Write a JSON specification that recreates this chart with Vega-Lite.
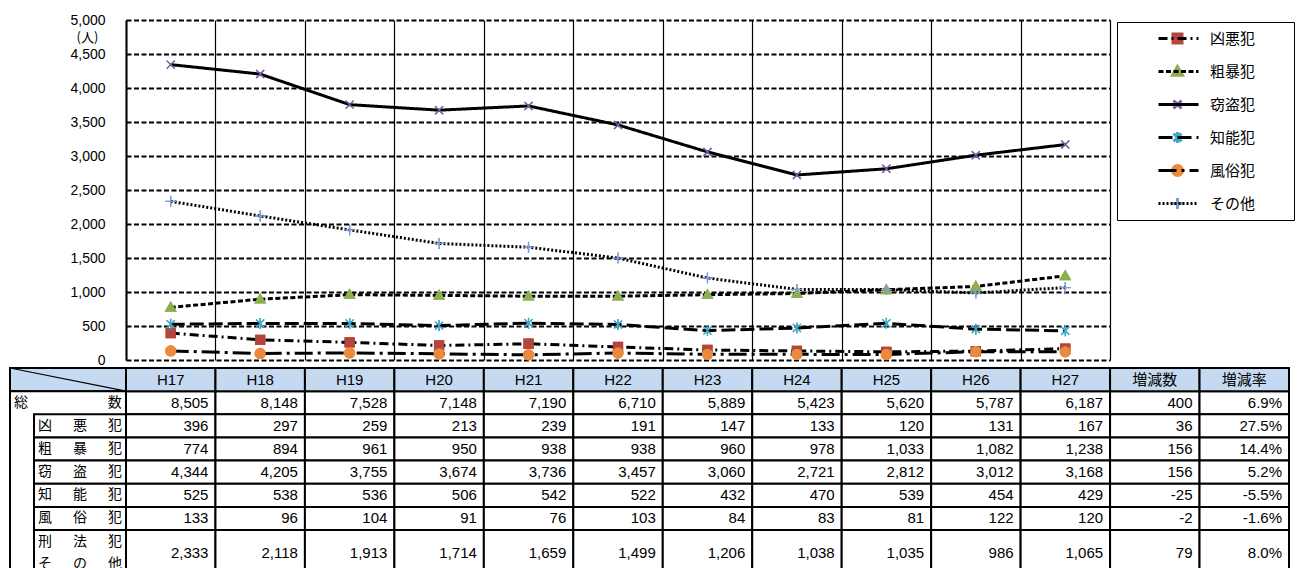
{
  "$schema": "https://vega.github.io/schema/vega-lite/v6.json",
  "width": 984,
  "height": 340,
  "autosize": {"type": "none"},
  "padding": {"left": 126, "top": 20, "right": 194, "bottom": 208},
  "background": "white",
  "config": {
    "view": {"stroke": null},
    "font": "Liberation Sans",
    "locale": {"number": {"decimal": ".", "thousands": ",", "grouping": [3], "currency": ["", ""], "minus": "-"}}
  },
  "datasets": {
    "cells": [
      {"区分": "総数", "年": "H17", "値": 8505}, {"区分": "総数", "年": "H18", "値": 8148}, {"区分": "総数", "年": "H19", "値": 7528},
      {"区分": "総数", "年": "H20", "値": 7148}, {"区分": "総数", "年": "H21", "値": 7190}, {"区分": "総数", "年": "H22", "値": 6710},
      {"区分": "総数", "年": "H23", "値": 5889}, {"区分": "総数", "年": "H24", "値": 5423}, {"区分": "総数", "年": "H25", "値": 5620},
      {"区分": "総数", "年": "H26", "値": 5787}, {"区分": "総数", "年": "H27", "値": 6187},
      {"区分": "総数", "年": "増減数", "値": 400}, {"区分": "総数", "年": "増減率", "値": 0.069},

      {"区分": "凶悪犯", "年": "H17", "値": 396}, {"区分": "凶悪犯", "年": "H18", "値": 297}, {"区分": "凶悪犯", "年": "H19", "値": 259},
      {"区分": "凶悪犯", "年": "H20", "値": 213}, {"区分": "凶悪犯", "年": "H21", "値": 239}, {"区分": "凶悪犯", "年": "H22", "値": 191},
      {"区分": "凶悪犯", "年": "H23", "値": 147}, {"区分": "凶悪犯", "年": "H24", "値": 133}, {"区分": "凶悪犯", "年": "H25", "値": 120},
      {"区分": "凶悪犯", "年": "H26", "値": 131}, {"区分": "凶悪犯", "年": "H27", "値": 167},
      {"区分": "凶悪犯", "年": "増減数", "値": 36}, {"区分": "凶悪犯", "年": "増減率", "値": 0.275},

      {"区分": "粗暴犯", "年": "H17", "値": 774}, {"区分": "粗暴犯", "年": "H18", "値": 894}, {"区分": "粗暴犯", "年": "H19", "値": 961},
      {"区分": "粗暴犯", "年": "H20", "値": 950}, {"区分": "粗暴犯", "年": "H21", "値": 938}, {"区分": "粗暴犯", "年": "H22", "値": 938},
      {"区分": "粗暴犯", "年": "H23", "値": 960}, {"区分": "粗暴犯", "年": "H24", "値": 978}, {"区分": "粗暴犯", "年": "H25", "値": 1033},
      {"区分": "粗暴犯", "年": "H26", "値": 1082}, {"区分": "粗暴犯", "年": "H27", "値": 1238},
      {"区分": "粗暴犯", "年": "増減数", "値": 156}, {"区分": "粗暴犯", "年": "増減率", "値": 0.144},

      {"区分": "窃盗犯", "年": "H17", "値": 4344}, {"区分": "窃盗犯", "年": "H18", "値": 4205}, {"区分": "窃盗犯", "年": "H19", "値": 3755},
      {"区分": "窃盗犯", "年": "H20", "値": 3674}, {"区分": "窃盗犯", "年": "H21", "値": 3736}, {"区分": "窃盗犯", "年": "H22", "値": 3457},
      {"区分": "窃盗犯", "年": "H23", "値": 3060}, {"区分": "窃盗犯", "年": "H24", "値": 2721}, {"区分": "窃盗犯", "年": "H25", "値": 2812},
      {"区分": "窃盗犯", "年": "H26", "値": 3012}, {"区分": "窃盗犯", "年": "H27", "値": 3168},
      {"区分": "窃盗犯", "年": "増減数", "値": 156}, {"区分": "窃盗犯", "年": "増減率", "値": 0.052},

      {"区分": "知能犯", "年": "H17", "値": 525}, {"区分": "知能犯", "年": "H18", "値": 538}, {"区分": "知能犯", "年": "H19", "値": 536},
      {"区分": "知能犯", "年": "H20", "値": 506}, {"区分": "知能犯", "年": "H21", "値": 542}, {"区分": "知能犯", "年": "H22", "値": 522},
      {"区分": "知能犯", "年": "H23", "値": 432}, {"区分": "知能犯", "年": "H24", "値": 470}, {"区分": "知能犯", "年": "H25", "値": 539},
      {"区分": "知能犯", "年": "H26", "値": 454}, {"区分": "知能犯", "年": "H27", "値": 429},
      {"区分": "知能犯", "年": "増減数", "値": -25}, {"区分": "知能犯", "年": "増減率", "値": -0.055},

      {"区分": "風俗犯", "年": "H17", "値": 133}, {"区分": "風俗犯", "年": "H18", "値": 96}, {"区分": "風俗犯", "年": "H19", "値": 104},
      {"区分": "風俗犯", "年": "H20", "値": 91}, {"区分": "風俗犯", "年": "H21", "値": 76}, {"区分": "風俗犯", "年": "H22", "値": 103},
      {"区分": "風俗犯", "年": "H23", "値": 84}, {"区分": "風俗犯", "年": "H24", "値": 83}, {"区分": "風俗犯", "年": "H25", "値": 81},
      {"区分": "風俗犯", "年": "H26", "値": 122}, {"区分": "風俗犯", "年": "H27", "値": 120},
      {"区分": "風俗犯", "年": "増減数", "値": -2}, {"区分": "風俗犯", "年": "増減率", "値": -0.016},

      {"区分": "その他", "年": "H17", "値": 2333}, {"区分": "その他", "年": "H18", "値": 2118}, {"区分": "その他", "年": "H19", "値": 1913},
      {"区分": "その他", "年": "H20", "値": 1714}, {"区分": "その他", "年": "H21", "値": 1659}, {"区分": "その他", "年": "H22", "値": 1499},
      {"区分": "その他", "年": "H23", "値": 1206}, {"区分": "その他", "年": "H24", "値": 1038}, {"区分": "その他", "年": "H25", "値": 1035},
      {"区分": "その他", "年": "H26", "値": 986}, {"区分": "その他", "年": "H27", "値": 1065},
      {"区分": "その他", "年": "増減数", "値": 79}, {"区分": "その他", "年": "増減率", "値": 0.08}
    ],
    "labels": [
      {"区分": "総数", "表記": "総　　　　　\u2002\u2009数"},
      {"区分": "凶悪犯", "表記": "凶　\u2002悪　\u2002犯"},
      {"区分": "粗暴犯", "表記": "粗　\u2002暴　\u2002犯"},
      {"区分": "窃盗犯", "表記": "窃　\u2002盗　\u2002犯"},
      {"区分": "知能犯", "表記": "知　\u2002能　\u2002犯"},
      {"区分": "風俗犯", "表記": "風　\u2002俗　\u2002犯"},
      {"区分": "その他", "表記": "刑　\u2002法　\u2002犯\nそ　\u2002の　\u2002他"}
    ]
  },
  "resolve": {"scale": {"x": "independent", "y": "independent"}},
  "layer": [
    {
      "data": {"name": "cells"},
      "transform": [
        {"filter": {"field": "区分", "oneOf": ["凶悪犯", "粗暴犯", "窃盗犯", "知能犯", "風俗犯", "その他"]}},
        {"filter": {"field": "年", "oneOf": ["H17", "H18", "H19", "H20", "H21", "H22", "H23", "H24", "H25", "H26", "H27"]}}
      ],
      "encoding": {
        "x": {
          "field": "年", "type": "nominal",
          "scale": {"domain": ["H17", "H18", "H19", "H20", "H21", "H22", "H23", "H24", "H25", "H26", "H27"], "paddingInner": 0, "paddingOuter": 0},
          "axis": {"labels": false, "ticks": false, "domain": false, "title": null, "grid": true, "tickBand": "extent", "gridColor": "black", "gridWidth": 1.2, "gridOpacity": 1}
        },
        "y": {
          "field": "値", "type": "quantitative",
          "scale": {"domain": [0, 5000], "nice": false},
          "axis": {
            "values": [0, 500, 1000, 1500, 2000, 2500, 3000, 3500, 4000, 4500, 5000],
            "format": ",d", "labelFont": "Liberation Sans", "labelFontSize": 14, "labelColor": "black", "labelPadding": 21,
            "ticks": false, "domain": true, "domainColor": "black", "domainWidth": 2,
            "grid": true, "gridColor": "black", "gridWidth": 2, "gridDash": [5, 2.5], "gridOpacity": 1,
            "title": "(人)", "titleAngle": 0, "titleX": -39, "titleY": 17, "titleAlign": "center", "titleBaseline": "middle",
            "titleFont": "Noto Sans CJK JP", "titleFontSize": 13, "titleFontWeight": "normal", "titleColor": "black"
          }
        }
      },
      "layer": [
        {
          "mark": {"type": "point", "filled": true, "size": 100, "opacity": 1, "strokeWidth": 1.3},
          "encoding": {
            "color": {
              "field": "区分", "type": "nominal",
              "scale": {"domain": ["凶悪犯", "粗暴犯", "窃盗犯", "知能犯", "風俗犯", "その他"], "range": ["#b5443f", "#8db04f", "#7d5fa3", "#3fa8c6", "#ea8a3c", "#7f9fd4"]},
              "legend": {"orient": "none", "legendX": 991, "legendY": 2, "title": null, "padding": 0, "strokeColor": "black", "clipHeight": 33, "rowPadding": 0, "labelOpacity": 0, "labelFont": "Noto Sans CJK JP", "labelFontSize": 12, "symbolOffset": 54, "labelOffset": 73, "symbolStrokeWidth": 1.3, "symbolOpacity": 1, "symbolSize": 100}
            },
            "stroke": {
              "field": "区分", "type": "nominal",
              "scale": {"domain": ["凶悪犯", "粗暴犯", "窃盗犯", "知能犯", "風俗犯", "その他"], "range": ["#b5443f", "#8db04f", "#7d5fa3", "#3fa8c6", "#ea8a3c", "#7f9fd4"]},
              "legend": {"orient": "none", "legendX": 991, "legendY": 2, "title": null, "padding": 0, "strokeColor": "black", "clipHeight": 33, "rowPadding": 0, "labelOpacity": 0, "labelFont": "Noto Sans CJK JP", "labelFontSize": 12, "symbolOffset": 54, "labelOffset": 73, "symbolStrokeWidth": 1.3, "symbolOpacity": 1, "symbolSize": 100}
            },
            "shape": {
              "field": "区分", "type": "nominal",
              "scale": {
                "domain": ["凶悪犯", "粗暴犯", "窃盗犯", "知能犯", "風俗犯", "その他"],
                "range": [
                  "M-0.9,-0.9H0.9V0.9H-0.9Z",
                  "M0,-1L1,0.75H-1Z",
                  "M-0.8,-0.8L0.8,0.8M-0.8,0.8L0.8,-0.8",
                  "M-0.8,-0.8L0.8,0.8M-0.8,0.8L0.8,-0.8M0,-1.1L0,1.1",
                  "M1,0A1,1,0,1,1,-1,0A1,1,0,1,1,1,0Z",
                  "M-1.1,0H1.1M0,-1.1V1.1"
                ]
              },
              "legend": {"orient": "none", "legendX": 991, "legendY": 2, "title": null, "padding": 0, "strokeColor": "black", "clipHeight": 33, "rowPadding": 0, "labelOpacity": 0, "labelFont": "Noto Sans CJK JP", "labelFontSize": 12, "symbolOffset": 54, "labelOffset": 73, "symbolStrokeWidth": 1.3, "symbolOpacity": 1, "symbolSize": 100}
            }
          }
        },
        {
          "mark": {"type": "line", "color": "black"},
          "encoding": {
            "strokeDash": {
              "field": "区分", "type": "nominal",
              "scale": {"domain": ["凶悪犯", "粗暴犯", "窃盗犯", "知能犯", "風俗犯", "その他"], "range": [[9, 4, 2, 4], [5, 2.5], [1, 0], [14, 5], [18, 5, 3, 5], [2, 2]]},
              "legend": {
                "orient": "right", "offset": 7, "title": null, "padding": 2,
                "clipHeight": 33, "rowPadding": 0,
                "symbolType": "M-4,0L4,0", "symbolSize": 100, "symbolStrokeColor": "black", "symbolStrokeWidth": 3,
                "symbolOffset": 52, "labelOffset": 24,
                "labelFont": "Noto Sans CJK JP", "labelFontSize": 15, "labelColor": "black"
              }
            },
            "strokeWidth": {
              "field": "区分", "type": "nominal",
              "scale": {"domain": ["凶悪犯", "粗暴犯", "窃盗犯", "知能犯", "風俗犯", "その他"], "range": [3, 3, 2, 3.5, 3, 2.5]},
              "legend": null
            }
          }
        },
        {
          "mark": {"type": "point", "filled": true, "size": 100, "opacity": 1, "strokeWidth": 1.3},
          "encoding": {
            "color": {"field": "区分", "type": "nominal", "legend": null},
            "stroke": {"field": "区分", "type": "nominal", "legend": null},
            "shape": {"field": "区分", "type": "nominal", "legend": null}
          }
        }
      ]
    },
    {
      "data": {"name": "cells"},
      "encoding": {
        "x": {
          "field": "年", "type": "nominal",
          "scale": {"domain": ["H17", "H18", "H19", "H20", "H21", "H22", "H23", "H24", "H25", "H26", "H27", "増減数", "増減率"], "range": [0, 1163], "paddingInner": 0, "paddingOuter": 0},
          "axis": null
        },
        "y": {
          "field": "区分", "type": "nominal",
          "scale": {"domain": ["見出し", "総数", "凶悪犯", "粗暴犯", "窃盗犯", "知能犯", "風俗犯", "その他", "その他（続）"], "range": [348, 556.35], "paddingInner": 0, "paddingOuter": 0},
          "axis": null
        }
      },
      "layer": [
        {
          "transform": [{"filter": {"not": {"field": "区分", "equal": "その他"}}}],
          "mark": {"type": "rect", "fill": "white", "stroke": "black", "strokeWidth": 2}
        },
        {
          "transform": [{"filter": {"field": "区分", "equal": "その他"}}],
          "mark": {"type": "rect", "fill": "white", "stroke": "black", "strokeWidth": 2},
          "encoding": {
            "y": {"field": "区分", "type": "nominal", "bandPosition": 0,
                  "scale": {"domain": ["見出し", "総数", "凶悪犯", "粗暴犯", "窃盗犯", "知能犯", "風俗犯", "その他", "その他（続）"], "range": [348, 556.35], "paddingInner": 0, "paddingOuter": 0}},
            "y2": {"datum": "その他（続）", "bandPosition": 1}
          }
        },
        {
          "transform": [{"filter": {"field": "区分", "equal": "総数"}}],
          "mark": {"type": "rect", "fill": "#c5d9f1", "stroke": "black", "strokeWidth": 2},
          "encoding": {
            "y": {"datum": "見出し", "type": "nominal",
                  "scale": {"domain": ["見出し", "総数", "凶悪犯", "粗暴犯", "窃盗犯", "知能犯", "風俗犯", "その他", "その他（続）"], "range": [348, 556.35], "paddingInner": 0, "paddingOuter": 0}}
          }
        },
        {
          "transform": [{"filter": {"field": "区分", "equal": "総数"}}],
          "mark": {"type": "text", "font": "Liberation Sans, Noto Sans CJK JP", "fontSize": 15, "color": "black", "align": "center", "baseline": "middle"},
          "encoding": {
            "y": {"datum": "見出し", "type": "nominal",
                  "scale": {"domain": ["見出し", "総数", "凶悪犯", "粗暴犯", "窃盗犯", "知能犯", "風俗犯", "その他", "その他（続）"], "range": [348, 556.35], "paddingInner": 0, "paddingOuter": 0}},
            "text": {"field": "年", "type": "nominal"}
          }
        },
        {
          "transform": [{"filter": {"not": {"field": "年", "equal": "増減率"}}}, {"filter": {"not": {"field": "区分", "equal": "その他"}}}],
          "mark": {"type": "text", "font": "Liberation Sans", "fontSize": 15, "color": "black", "align": "right", "baseline": "middle", "dx": -7},
          "encoding": {
            "x": {"field": "年", "type": "nominal", "bandPosition": 1,
                  "scale": {"domain": ["H17", "H18", "H19", "H20", "H21", "H22", "H23", "H24", "H25", "H26", "H27", "増減数", "増減率"], "range": [0, 1163], "paddingInner": 0, "paddingOuter": 0}},
            "text": {"field": "値", "type": "quantitative", "format": ","}
          }
        },
        {
          "transform": [{"filter": {"field": "年", "equal": "増減率"}}, {"filter": {"not": {"field": "区分", "equal": "その他"}}}],
          "mark": {"type": "text", "font": "Liberation Sans", "fontSize": 15, "color": "black", "align": "right", "baseline": "middle", "dx": -7},
          "encoding": {
            "x": {"field": "年", "type": "nominal", "bandPosition": 1,
                  "scale": {"domain": ["H17", "H18", "H19", "H20", "H21", "H22", "H23", "H24", "H25", "H26", "H27", "増減数", "増減率"], "range": [0, 1163], "paddingInner": 0, "paddingOuter": 0}},
            "text": {"field": "値", "type": "quantitative", "format": ".1%"}
          }
        },
        {
          "transform": [{"filter": {"not": {"field": "年", "equal": "増減率"}}}, {"filter": {"field": "区分", "equal": "その他"}}],
          "mark": {"type": "text", "font": "Liberation Sans", "fontSize": 15, "color": "black", "align": "right", "baseline": "middle", "dx": -7},
          "encoding": {
            "x": {"field": "年", "type": "nominal", "bandPosition": 1,
                  "scale": {"domain": ["H17", "H18", "H19", "H20", "H21", "H22", "H23", "H24", "H25", "H26", "H27", "増減数", "増減率"], "range": [0, 1163], "paddingInner": 0, "paddingOuter": 0}},
            "y": {"field": "区分", "type": "nominal", "bandPosition": 1,
                  "scale": {"domain": ["見出し", "総数", "凶悪犯", "粗暴犯", "窃盗犯", "知能犯", "風俗犯", "その他", "その他（続）"], "range": [348, 556.35], "paddingInner": 0, "paddingOuter": 0}},
            "text": {"field": "値", "type": "quantitative", "format": ","}
          }
        },
        {
          "transform": [{"filter": {"field": "年", "equal": "増減率"}}, {"filter": {"field": "区分", "equal": "その他"}}],
          "mark": {"type": "text", "font": "Liberation Sans", "fontSize": 15, "color": "black", "align": "right", "baseline": "middle", "dx": -7},
          "encoding": {
            "x": {"field": "年", "type": "nominal", "bandPosition": 1,
                  "scale": {"domain": ["H17", "H18", "H19", "H20", "H21", "H22", "H23", "H24", "H25", "H26", "H27", "増減数", "増減率"], "range": [0, 1163], "paddingInner": 0, "paddingOuter": 0}},
            "y": {"field": "区分", "type": "nominal", "bandPosition": 1,
                  "scale": {"domain": ["見出し", "総数", "凶悪犯", "粗暴犯", "窃盗犯", "知能犯", "風俗犯", "その他", "その他（続）"], "range": [348, 556.35], "paddingInner": 0, "paddingOuter": 0}},
            "text": {"field": "値", "type": "quantitative", "format": ".1%"}
          }
        }
      ]
    },
    {
      "data": {"name": "labels"},
      "encoding": {
        "y": {
          "field": "区分", "type": "nominal",
          "scale": {"domain": ["見出し", "総数", "凶悪犯", "粗暴犯", "窃盗犯", "知能犯", "風俗犯", "その他", "その他（続）"], "range": [348, 556.35], "paddingInner": 0, "paddingOuter": 0},
          "axis": null
        }
      },
      "layer": [
        {
          "transform": [{"filter": {"field": "区分", "equal": "総数"}}],
          "mark": {"type": "rect", "fill": "#c5d9f1", "stroke": "black", "strokeWidth": 2},
          "encoding": {
            "x": {"datum": 0, "type": "quantitative", "scale": {"domain": [0, 116], "range": [-116, 0]}, "axis": null},
            "x2": {"datum": 116},
            "y": {"datum": "見出し", "type": "nominal",
                  "scale": {"domain": ["見出し", "総数", "凶悪犯", "粗暴犯", "窃盗犯", "知能犯", "風俗犯", "その他", "その他（続）"], "range": [348, 556.35], "paddingInner": 0, "paddingOuter": 0}}
          }
        },
        {
          "transform": [{"filter": {"field": "区分", "equal": "総数"}}],
          "mark": {"type": "rule", "color": "black", "strokeWidth": 1.2},
          "encoding": {
            "x": {"datum": 0, "type": "quantitative", "scale": {"domain": [0, 116], "range": [-116, 0]}, "axis": null},
            "x2": {"datum": 116},
            "y": {"datum": "見出し", "type": "nominal", "bandPosition": 0,
                  "scale": {"domain": ["見出し", "総数", "凶悪犯", "粗暴犯", "窃盗犯", "知能犯", "風俗犯", "その他", "その他（続）"], "range": [348, 556.35], "paddingInner": 0, "paddingOuter": 0}},
            "y2": {"datum": "見出し", "bandPosition": 1}
          }
        },
        {
          "transform": [{"filter": {"field": "区分", "equal": "総数"}}],
          "mark": {"type": "rect", "fill": "white", "stroke": "black", "strokeWidth": 2},
          "encoding": {
            "x": {"datum": 0, "type": "quantitative", "scale": {"domain": [0, 116], "range": [-116, 0]}, "axis": null},
            "x2": {"datum": 116},
            "y": {"datum": "総数", "type": "nominal", "bandPosition": 0,
                  "scale": {"domain": ["見出し", "総数", "凶悪犯", "粗暴犯", "窃盗犯", "知能犯", "風俗犯", "その他", "その他（続）"], "range": [348, 556.35], "paddingInner": 0, "paddingOuter": 0}},
            "y2": {"datum": "その他（続）", "bandPosition": 1}
          }
        },
        {
          "transform": [{"filter": {"field": "区分", "oneOf": ["凶悪犯", "粗暴犯", "窃盗犯", "知能犯", "風俗犯"]}}],
          "mark": {"type": "rect", "fill": "white", "stroke": "black", "strokeWidth": 2},
          "encoding": {
            "x": {"datum": 24, "type": "quantitative", "scale": {"domain": [0, 116], "range": [-116, 0]}, "axis": null},
            "x2": {"datum": 116}
          }
        },
        {
          "transform": [{"filter": {"field": "区分", "equal": "その他"}}],
          "mark": {"type": "rect", "fill": "white", "stroke": "black", "strokeWidth": 2},
          "encoding": {
            "x": {"datum": 24, "type": "quantitative", "scale": {"domain": [0, 116], "range": [-116, 0]}, "axis": null},
            "x2": {"datum": 116},
            "y": {"field": "区分", "type": "nominal", "bandPosition": 0,
                  "scale": {"domain": ["見出し", "総数", "凶悪犯", "粗暴犯", "窃盗犯", "知能犯", "風俗犯", "その他", "その他（続）"], "range": [348, 556.35], "paddingInner": 0, "paddingOuter": 0}},
            "y2": {"datum": "その他（続）", "bandPosition": 1}
          }
        },
        {
          "transform": [{"filter": {"field": "区分", "equal": "総数"}}],
          "mark": {"type": "text", "font": "Noto Sans CJK JP", "fontSize": 14, "color": "black", "align": "left", "baseline": "middle"},
          "encoding": {
            "x": {"datum": 4, "type": "quantitative", "scale": {"domain": [0, 116], "range": [-116, 0]}, "axis": null},
            "text": {"field": "表記", "type": "nominal"}
          }
        },
        {
          "transform": [{"filter": {"field": "区分", "oneOf": ["凶悪犯", "粗暴犯", "窃盗犯", "知能犯", "風俗犯", "その他"]}}],
          "mark": {"type": "text", "font": "Noto Sans CJK JP", "fontSize": 14, "color": "black", "align": "left", "baseline": "middle", "lineBreak": "\n", "lineHeight": 22},
          "encoding": {
            "x": {"datum": 28, "type": "quantitative", "scale": {"domain": [0, 116], "range": [-116, 0]}, "axis": null},
            "text": {"field": "表記", "type": "nominal"}
          }
        }
      ]
    }
  ]
}
